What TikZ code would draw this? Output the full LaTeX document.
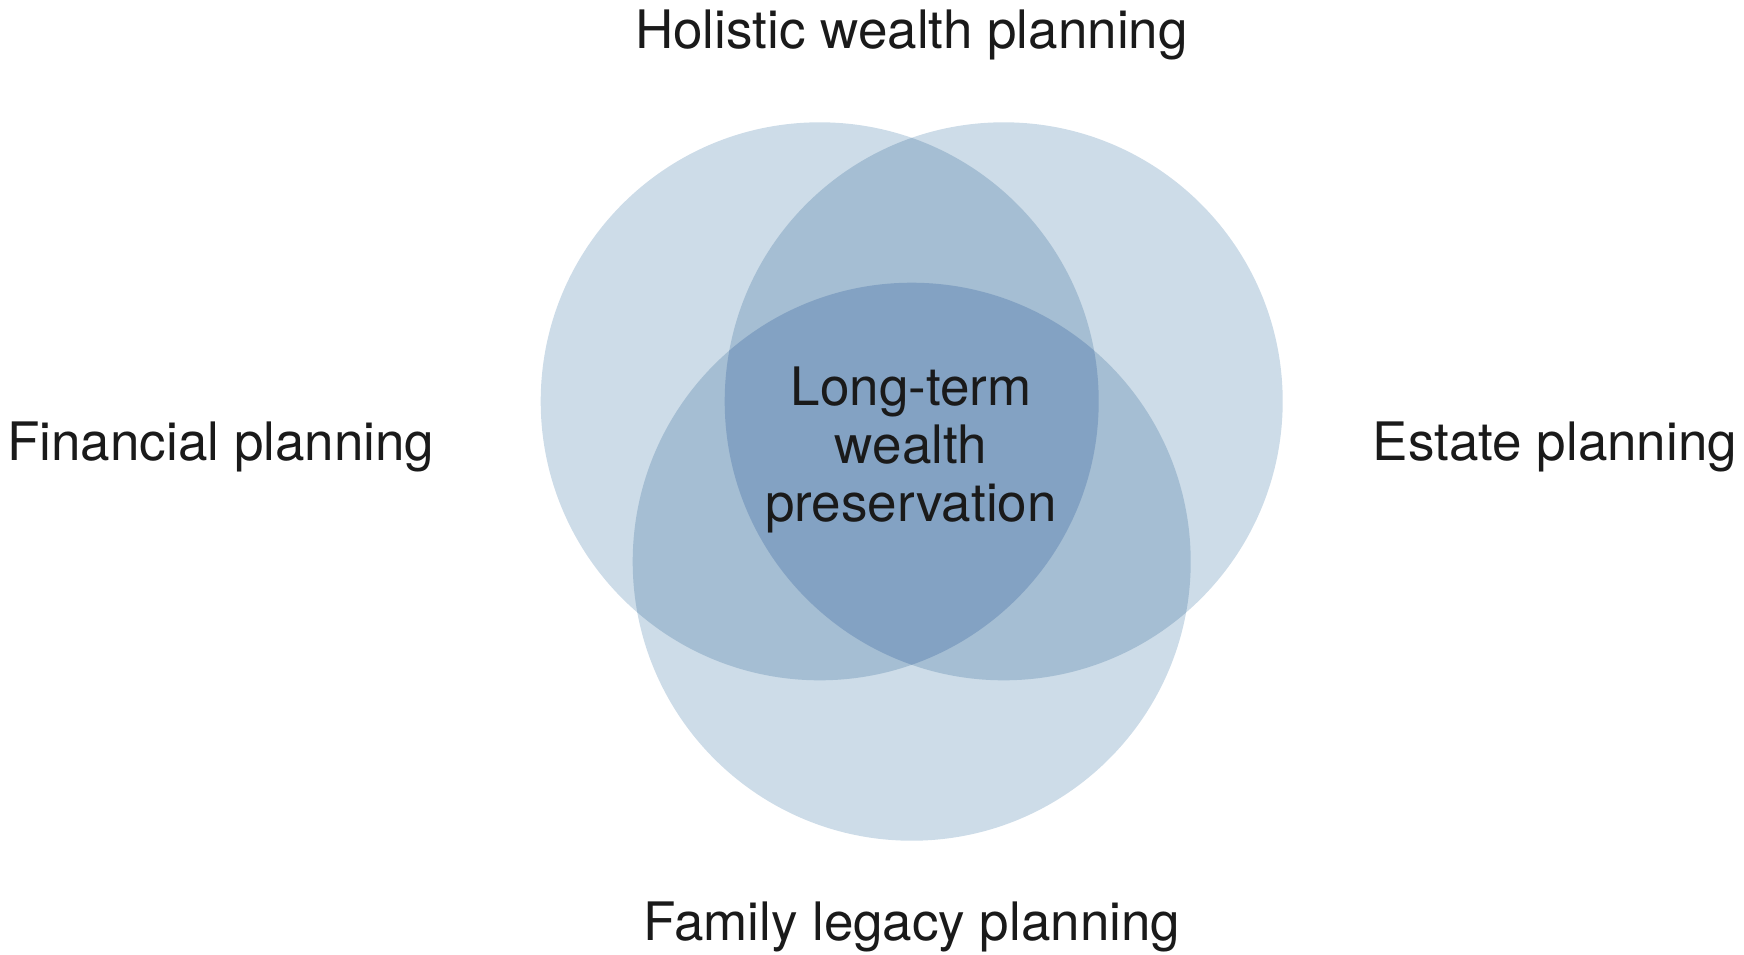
\documentclass[tikz,border=0pt]{standalone}
\usepackage{fontspec}
\setmainfont{TeX Gyre Heros}
\definecolor{one}{HTML}{CDDCE8}
\definecolor{two}{HTML}{A5BED3}
\definecolor{three}{HTML}{83A2C3}
\definecolor{ink}{HTML}{1A1A1A}
\begin{document}
\begin{tikzpicture}[x=0.5pt,y=-0.5pt,
  lbl/.style={font=\fontsize{26.5pt}{29.2pt}\selectfont, text=ink, inner sep=0pt}]
\useasboundingbox (0,0) rectangle (1744,954);
\def\R{279}
% circle centres
\coordinate (cF) at (819.7,401.3);
\coordinate (cE) at (1003.7,401.3);
\coordinate (cL) at (911.7,561.7);
% single layer
\fill[one] (cF) circle (\R) (cE) circle (\R) (cL) circle (\R);
% pairwise overlaps
\begin{scope}
  \clip (cF) circle (\R);
  \fill[two] (cE) circle (\R) (cL) circle (\R);
\end{scope}
\begin{scope}
  \clip (cE) circle (\R);
  \fill[two] (cL) circle (\R);
\end{scope}
% common core
\begin{scope}
  \clip (cF) circle (\R);
  \clip (cE) circle (\R);
  \fill[three] (cL) circle (\R);
\end{scope}
% labels
\node[lbl, anchor=base] (top) at (911.5,48) {Holistic wealth planning};
\node[lbl, anchor=base] (fin) at (220.8,460) {Financial planning};
\node[lbl, anchor=base] (est) at (1555,460) {Estate planning};
\node[lbl, anchor=base] (fam) at (912,940) {Family legacy planning};
\node[lbl, align=center] (core) at (911,450) {Long-term\\wealth\\preservation};
\end{tikzpicture}
\end{document}
